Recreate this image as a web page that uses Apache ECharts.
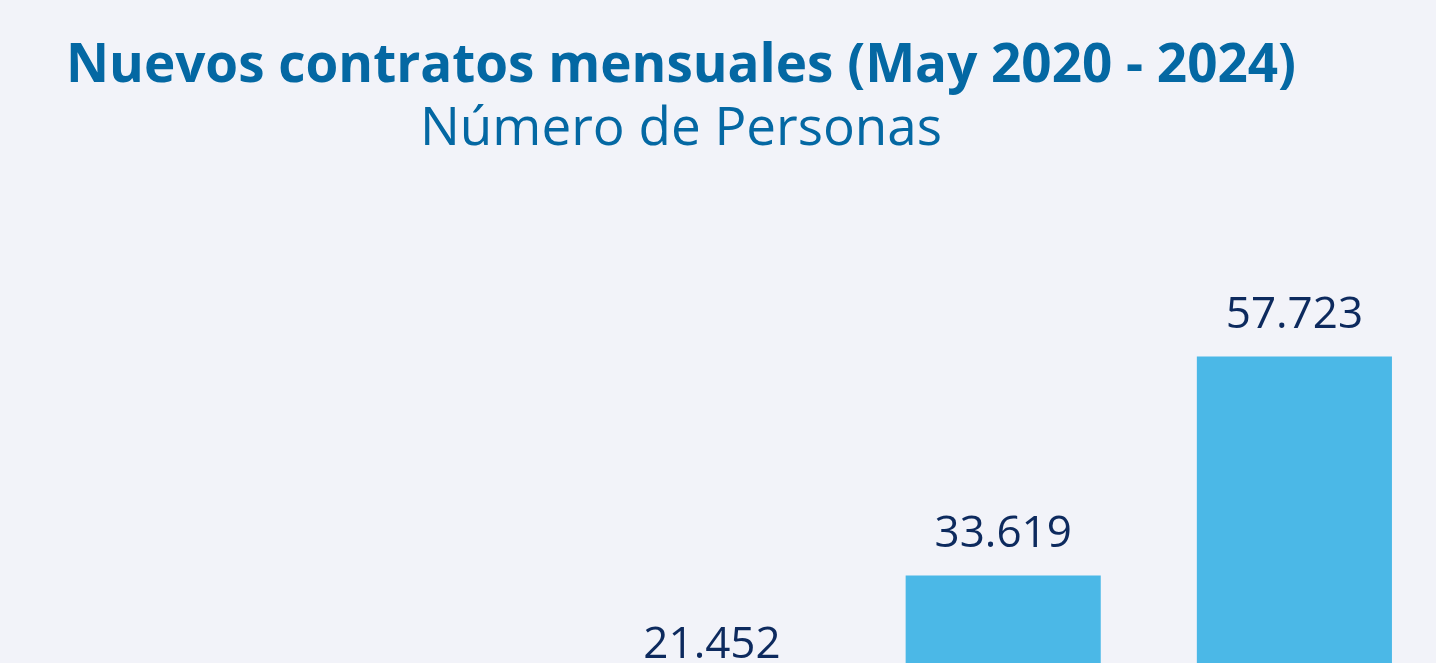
<!DOCTYPE html>
<html>
<head>
<meta charset="utf-8">
<script src="https://cdn.jsdelivr.net/npm/echarts@6/dist/echarts.min.js"></script>
<style>
  html, body { margin: 0; padding: 0; background: #F2F3F9; overflow: hidden; }
  #chart { width: 1436px; height: 900px; }
</style>
</head>
<body>
<div id="chart"></div>
<script>
const years = ["2020", "2021", "2022", "2023", "2024"];
const contratos = [9800, 14500, 21452, 33619, 57723];

const chart = echarts.init(document.getElementById("chart"));

chart.setOption({
    backgroundColor: "#F2F3F9",
    title: {
        text: "Nuevos contratos mensuales (May 2020 - 2024)",
        subtext: "Número de Personas",
        left: 676,
        top: 35,
        textAlign: "center",
        itemGap: 10,
        textStyle: {
            fontFamily: "Open Sans",
            fontWeight: "bold",
            fontSize: 53,
            color: "#0468A3"
        },
        subtextStyle: {
            fontFamily: "Open Sans",
            fontWeight: "normal",
            fontSize: 53,
            color: "#0468A3"
        }
    },
    grid: {
        left: -16,
        right: -4,
        top: 154,
        bottom: 19,
        outerBoundsMode: "none"
    },
    xAxis: {
        type: "category",
        data: years,
        axisLine: { show: false },
        axisTick: { show: false },
        axisLabel: { show: false }
    },
    yAxis: {
        type: "value",
        min: 0,
        max: 80000,
        show: false,
        splitLine: { show: false }
    },
    series: [
        {
            name: "Contratos",
            type: "bar",
            data: contratos,
            barCategoryGap: "33%",
            itemStyle: { color: "#4BB8E7" },
            label: {
                show: true,
                position: "top",
                distance: 19,
                fontFamily: "Open Sans",
                fontSize: 44,
                color: "#0D2A5E",
                formatter: p => p.value.toLocaleString("de-DE")
            }
        }
    ]
});
</script>
</body>
</html>
